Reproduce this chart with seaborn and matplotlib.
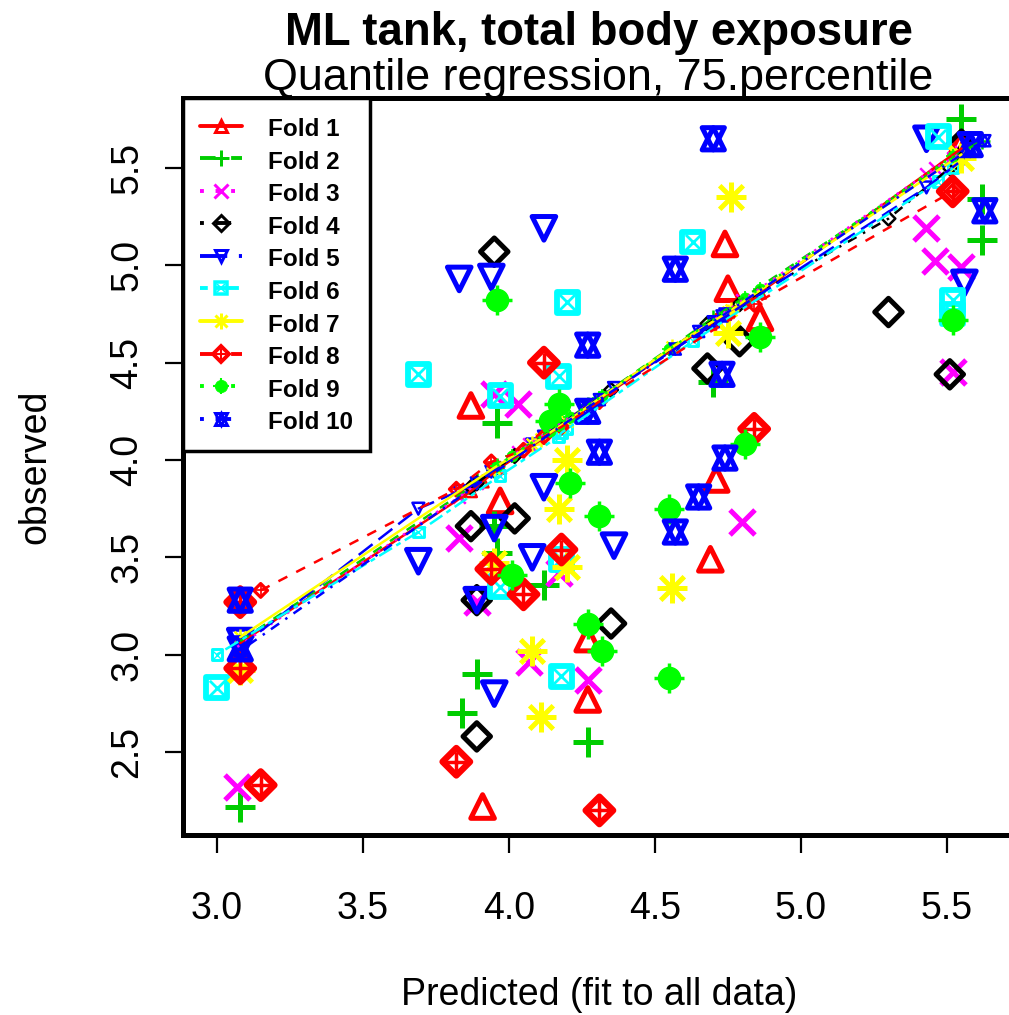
import matplotlib
matplotlib.use("Agg")
import matplotlib.pyplot as plt
from matplotlib.lines import Line2D
import seaborn as sns

sns.set_theme(style="white")
plt.rcParams['font.family'] = ['Liberation Sans', 'DejaVu Sans']
plt.rcParams['text.color'] = 'black'
plt.rcParams['axes.labelcolor'] = 'black'

# ---- data (observed vs predicted, per CV fold) ----
fold_labels = ["Fold 1", "Fold 2", "Fold 3", "Fold 4", "Fold 5",
               "Fold 6", "Fold 7", "Fold 8", "Fold 9", "Fold 10"]

x1 = [3.08, 3.87, 3.97, 3.91, 4.27, 4.27, 4.69, 4.71, 4.74, 4.75, 4.86, 5.55]
y1 = [2.98, 4.28, 3.79, 2.22, 2.77, 3.08, 3.49, 3.90, 5.11, 4.88, 4.73, 5.63]
x2 = [3.08, 3.96, 3.89, 3.84, 4.27, 4.12, 3.95, 3.96, 4.70, 5.55, 5.62, 5.62]
y2 = [2.22, 4.19, 2.90, 2.70, 2.55, 3.36, 3.66, 3.52, 4.40, 5.75, 5.34, 5.13]
x3 = [3.07, 3.95, 4.03, 3.83, 3.89, 4.07, 4.27, 4.80, 5.43, 5.46, 5.55, 5.52, 4.17]
y3 = [2.32, 4.34, 4.29, 3.60, 3.27, 2.96, 2.87, 3.68, 5.19, 5.02, 4.99, 4.45, 3.42]
x4 = [3.95, 4.02, 3.87, 3.89, 3.89, 4.35, 4.68, 4.79, 5.30, 5.51, 5.55]
y4 = [5.07, 3.70, 3.66, 3.28, 2.58, 3.16, 4.47, 4.61, 4.76, 4.44, 5.62]
x5 = [3.83, 3.94, 4.12, 3.69, 3.95, 4.12, 4.08, 4.36, 3.95, 3.89, 5.56, 5.43, 3.08]
y5 = [4.93, 4.94, 5.19, 3.48, 3.65, 3.86, 3.50, 3.56, 2.80, 3.28, 4.91, 5.65, 3.07]
x6 = [3.00, 3.69, 4.20, 4.17, 3.97, 3.97, 4.18, 4.18, 4.63, 5.47, 5.52, 5.52]
y6 = [2.83, 4.44, 4.81, 4.43, 4.33, 3.35, 3.49, 2.89, 5.12, 5.66, 4.82, 4.75]
x7 = [4.76, 4.20, 4.17, 4.20, 4.08, 4.11, 4.56, 3.95, 3.08, 4.75, 5.55]
y7 = [5.35, 4.00, 3.75, 3.45, 3.02, 2.68, 3.34, 3.47, 2.92, 4.65, 5.55]
x8 = [3.15, 3.08, 3.08, 4.12, 3.82, 4.31, 4.05, 3.94, 4.18, 4.84, 5.52]
y8 = [2.33, 2.93, 3.27, 4.50, 2.45, 2.20, 3.31, 3.44, 3.54, 4.16, 5.38]
x9 = [3.96, 4.17, 4.14, 4.21, 4.31, 4.55, 4.55, 4.27, 4.32, 4.01, 4.81, 5.52, 4.86]
y9 = [4.82, 4.29, 4.20, 3.88, 3.71, 3.75, 2.88, 3.16, 3.02, 3.41, 4.08, 4.72, 4.63]
x10 = [4.70, 4.57, 4.27, 4.31, 4.27, 4.73, 4.57, 4.65, 4.74, 3.08, 3.08, 5.63, 5.58]
y10 = [5.65, 4.98, 4.59, 4.04, 4.25, 4.44, 3.63, 3.81, 4.01, 3.28, 3.03, 5.28, 5.62]

# fold model predictions for the same points (the lines)
lx1 = [3.08, 3.87, 3.91, 3.97, 4.27, 4.69, 4.71, 4.74, 4.75, 4.86, 5.55]
ly1 = [3.06, 3.84, 3.89, 3.96, 4.27, 4.70, 4.72, 4.75, 4.76, 4.86, 5.60]
lx2 = [3.08, 3.84, 3.89, 3.95, 3.96, 4.12, 4.27, 4.70, 5.55, 5.62]
ly2 = [3.07, 3.83, 3.89, 3.95, 3.97, 4.13, 4.28, 4.73, 5.58, 5.64]
lx3 = [3.07, 3.83, 3.89, 3.95, 4.03, 4.07, 4.17, 4.27, 4.80, 5.43, 5.46, 5.52, 5.55]
ly3 = [3.04, 3.81, 3.88, 3.96, 4.04, 4.08, 4.18, 4.28, 4.82, 5.47, 5.50, 5.55, 5.58]
lx4 = [3.87, 3.89, 3.95, 4.02, 4.35, 4.68, 4.79, 5.30, 5.51, 5.55]
ly4 = [3.86, 3.88, 3.95, 4.02, 4.36, 4.70, 4.80, 5.24, 5.50, 5.58]
lx5 = [3.08, 3.69, 3.83, 3.89, 3.94, 3.95, 4.08, 4.12, 4.36, 5.43, 5.56]
ly5 = [3.04, 3.75, 3.84, 3.88, 3.94, 3.95, 4.08, 4.12, 4.37, 5.40, 5.55]
lx6 = [3.00, 3.69, 3.97, 4.17, 4.18, 4.20, 4.63, 5.47, 5.52]
ly6 = [3.00, 3.63, 3.92, 4.12, 4.14, 4.16, 4.61, 5.43, 5.50]
lx7 = [3.08, 3.95, 4.08, 4.11, 4.17, 4.20, 4.56, 4.75, 4.76, 5.55]
ly7 = [3.09, 3.96, 4.08, 4.11, 4.17, 4.20, 4.58, 4.76, 4.77, 5.57]
lx8 = [3.15, 3.82, 3.94, 4.05, 4.12, 4.18, 4.31, 4.84, 5.52]
ly8 = [3.33, 3.85, 3.99, 4.05, 4.12, 4.17, 4.30, 4.80, 5.38]
lx9 = [3.96, 4.01, 4.14, 4.17, 4.21, 4.27, 4.31, 4.32, 4.55, 4.81, 4.86, 5.52]
ly9 = [3.97, 4.02, 4.15, 4.18, 4.22, 4.28, 4.32, 4.33, 4.57, 4.83, 4.88, 5.56]
lx10 = [3.08, 4.27, 4.31, 4.57, 4.65, 4.70, 4.73, 4.74, 5.58, 5.63]
ly10 = [3.02, 4.27, 4.31, 4.57, 4.66, 4.71, 4.74, 4.75, 5.60, 5.64]

x_ticks = [3.0, 3.5, 4.0, 4.5, 5.0, 5.5]
y_ticks = [2.5, 3.0, 3.5, 4.0, 4.5, 5.0, 5.5]

# ---- styles (R base palette / pch / lty) ----
RED, GREEN3, MAG, BLK, BLUE, CYAN, YEL, GREEN = (
    "#FF0000", "#00CD00", "#FF00FF", "#000000", "#0000FF",
    "#00FFFF", "#FFFF00", "#00FF00")
colors = [RED, GREEN3, MAG, BLK, BLUE, CYAN, YEL, RED, GREEN, BLUE]
ltys = ["-", (0, (4, 4)), (0, (1, 3)), (0, (1, 3, 4, 3)), (0, (7, 3)),
        (0, (2, 2, 6, 2)), "-", (0, (4, 4)), (0, (1, 3)), (0, (1, 3, 4, 3))]
# marker layers: (marker, size, facecolor or None for line markers, linewidth)
pch = [
    [("^", 17, "none", 3.6)],
    [("+", 22, None, 3.6)],
    [("x", 18, None, 3.6)],
    [("D", 14, "none", 3.6)],
    [("v", 17, "none", 3.6)],
    [("s", 15, "none", 4.2), ("x", 11, None, 2.0)],
    [("+", 22, None, 3.6), ("x", 17, None, 3.6)],
    [("D", 14, "none", 4.6), ("+", 14, None, 2.5)],
    [("o", 16, "fill", 1.0), ("+", 21, None, 2.5)],
    [("^", 16, "none", 3.6), ("v", 16, "none", 3.6)],
]

xs = [x1, x2, x3, x4, x5, x6, x7, x8, x9, x10]
ys = [y1, y2, y3, y4, y5, y6, y7, y8, y9, y10]
lxs = [lx1, lx2, lx3, lx4, lx5, lx6, lx7, lx8, lx9, lx10]
lys = [ly1, ly2, ly3, ly4, ly5, ly6, ly7, ly8, ly9, ly10]

fig = plt.figure(figsize=(10.09, 10.15), dpi=100)
ax = fig.add_axes([183 / 1009, 1 - 835 / 1015, 833 / 1009, 737 / 1015])


def draw_marks(px, py, layers, col, scale=1.0):
    for m, size, fc, lw in layers:
        if fc is None:
            sns.scatterplot(x=px, y=py, ax=ax, marker=m, s=(size * scale) ** 2,
                            color=col, edgecolor=None, linewidth=lw * scale,
                            legend=False)
        else:
            face = col if fc == "fill" else "none"
            sns.scatterplot(x=px, y=py, ax=ax, marker=m, s=(size * scale) ** 2,
                            facecolors=face, edgecolor=col,
                            linewidth=lw * scale, legend=False)


for i in range(10):
    col = colors[i]
    # test points, big symbols
    draw_marks(xs[i], ys[i], pch[i], col)
    # fold predictions, line with small symbols
    sns.lineplot(x=lxs[i], y=lys[i], ax=ax, color=col, linestyle=ltys[i],
                 linewidth=1.8, estimator=None, errorbar=None, legend=False)
    draw_marks(lxs[i], lys[i], pch[i], col, scale=0.5)

ax.set_xlim(2.884, 2.884 + 833 / 292)
ax.set_ylim(2.0737, 5.8595)
ax.set_xticks(x_ticks)
ax.set_xticklabels([f"{v:.1f}" for v in x_ticks])
ax.set_yticks(y_ticks)
ax.set_yticklabels([f"{v:.1f}" for v in y_ticks])
ax.tick_params(axis="both", direction="out", length=13, width=1.6,
               colors="black", labelsize=27, bottom=True, left=True)
ax.tick_params(axis="x", pad=27)
ax.tick_params(axis="y", pad=14, labelrotation=90)
for t in ax.get_yticklabels():
    t.set_va("center")
for side in ["left", "top", "bottom", "right"]:
    ax.spines[side].set_linewidth(3.6)
    ax.spines[side].set_color("black")

ax.set_xlabel("Predicted (fit to all data)", fontsize=27)
ax.set_ylabel("observed", fontsize=27)
ax.xaxis.set_label_coords(0.5, (835 - 995) / 737)
ax.xaxis.label.set_va("center")
ax.yaxis.set_label_coords((35 - 183) / 833, 0.5)
ax.yaxis.label.set_va("center")

fig.text(599 / 1009, 1 - 45 / 1015, "ML tank, total body exposure",
         ha="center", va="baseline", fontsize=32.8, fontweight="bold")
fig.text(598 / 1009, 1 - 90 / 1015, "Quantile regression, 75.percentile",
         ha="center", va="baseline", fontsize=32.3)

# legend
handles = []
for i in range(10):
    col = colors[i]
    parts = []
    for j, (m, size, fc, lw) in enumerate(pch[i]):
        face = col if fc in (None, "fill") else "none"
        parts.append(Line2D([], [], color=col, lw=2.8 if j == 0 else 0,
                            linestyle=ltys[i] if j == 0 else "none",
                            marker=m, markersize=size * 0.55,
                            markerfacecolor=face, markeredgecolor=col,
                            markeredgewidth=lw * 0.6))
    handles.append(tuple(parts) if len(parts) > 1 else parts[0])

leg = ax.legend(handles, fold_labels, loc="upper left", bbox_to_anchor=(0, 1),
                borderaxespad=0, frameon=True, fancybox=False, framealpha=1,
                edgecolor="black", labelcolor="black",
                prop={"weight": "bold", "size": 17.5},
                handlelength=1.73, handletextpad=1.07, handleheight=1.25,
                labelspacing=0.27, borderpad=0.7)
leg.get_frame().set_linewidth(2.5)

fig.savefig("out.png", dpi=100)
